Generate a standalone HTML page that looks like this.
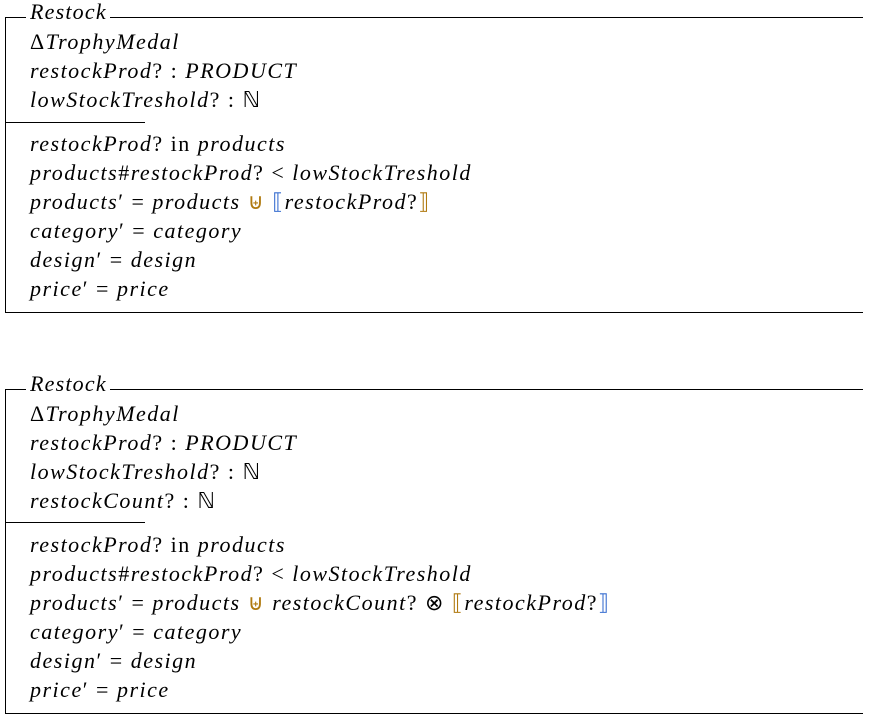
<!DOCTYPE html>
<html><head><meta charset="utf-8"><style>
body{margin:0;width:871px;height:721px;background:#fff;position:relative;overflow:hidden;font-family:"Liberation Serif",serif;}
.l{position:absolute;background:#000;}
.t{position:absolute;left:30px;font-size:22px;font-style:italic;line-height:22px;white-space:nowrap;letter-spacing:1.5px;}
.r{font-style:normal;}
.o{color:#b07a10;font-style:normal;}
.b{color:#3a6fd0;font-style:normal;}
.title{position:absolute;left:30px;font-size:22px;font-style:italic;line-height:22px;background:#fff;padding:0 3px 0 0;letter-spacing:1.2px;}
</style></head><body>
<div class="l" style="left:5px;top:17px;width:858px;height:1px"></div>
<div class="title" style="top:1px;">Restock</div>
<div class="l" style="left:26px;top:10px;width:4px;height:14px;background:#fff"></div>
<div class="l" style="left:5px;top:17px;width:1px;height:296px"></div>
<div class="l" style="left:5px;top:122px;width:140px;height:1px"></div>
<div class="l" style="left:5px;top:312px;width:858px;height:1px"></div>
<div class="t" style="top:31px"><span class="r">Δ</span>TrophyMedal</div>
<div class="t" style="top:60px">restockProd<span class="r">? : </span>PRODUCT</div>
<div class="t" style="top:89px">lowStockTreshold<span class="r">? : ℕ</span></div>
<div class="t" style="top:133px">restockProd<span class="r">? in </span>products</div>
<div class="t" style="top:162px">products<span class="r">#</span>restockProd<span class="r">? &lt; </span>lowStockTreshold</div>
<div class="t" style="top:191px">products<span class="r">′ = </span>products <span class="o">⊎</span> <span class="b">⟦</span>restockProd<span class="r">?</span><span class="o">⟧</span></div>
<div class="t" style="top:220px">category<span class="r">′ = </span>category</div>
<div class="t" style="top:249px">design<span class="r">′ = </span>design</div>
<div class="t" style="top:278px">price<span class="r">′ = </span>price</div>
<div class="l" style="left:5px;top:389px;width:858px;height:1px"></div>
<div class="title" style="top:373px;">Restock</div>
<div class="l" style="left:26px;top:382px;width:4px;height:14px;background:#fff"></div>
<div class="l" style="left:5px;top:389px;width:1px;height:325px"></div>
<div class="l" style="left:5px;top:522px;width:140px;height:1px"></div>
<div class="l" style="left:5px;top:713px;width:858px;height:1px"></div>
<div class="t" style="top:403px"><span class="r">Δ</span>TrophyMedal</div>
<div class="t" style="top:432px">restockProd<span class="r">? : </span>PRODUCT</div>
<div class="t" style="top:461px">lowStockTreshold<span class="r">? : ℕ</span></div>
<div class="t" style="top:490px">restockCount<span class="r">? : ℕ</span></div>
<div class="t" style="top:534px">restockProd<span class="r">? in </span>products</div>
<div class="t" style="top:563px">products<span class="r">#</span>restockProd<span class="r">? &lt; </span>lowStockTreshold</div>
<div class="t" style="top:592px">products<span class="r">′ = </span>products <span class="o">⊎</span> restockCount<span class="r">? ⊗ </span><span class="o">⟦</span>restockProd<span class="r">?</span><span class="b">⟧</span></div>
<div class="t" style="top:621px">category<span class="r">′ = </span>category</div>
<div class="t" style="top:650px">design<span class="r">′ = </span>design</div>
<div class="t" style="top:679px">price<span class="r">′ = </span>price</div>
</body></html>
